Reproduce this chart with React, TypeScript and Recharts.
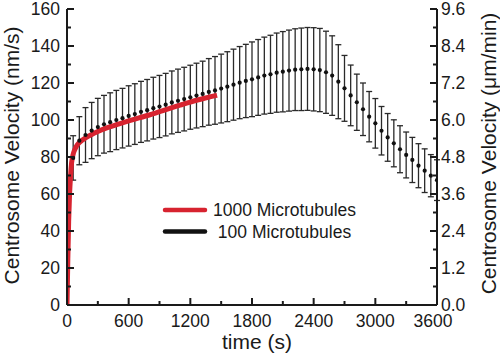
import React from 'react';
import { ComposedChart, Line, Scatter, XAxis, YAxis, ErrorBar } from 'recharts';

const FONT = '"Liberation Sans", Arial, Helvetica, sans-serif';

// 100 Microtubules (mean velocity, nm/s, with error bars)
const times100 = [60, 120, 180, 240, 300, 360, 420, 480, 540, 600, 660, 720, 780, 840, 900, 960, 1020, 1080, 1140, 1200, 1260, 1320, 1380, 1440, 1500, 1560, 1620, 1680, 1740, 1800, 1860, 1920, 1980, 2040, 2100, 2160, 2220, 2280, 2340, 2400, 2460, 2520, 2580, 2640, 2700, 2760, 2820, 2880, 2940, 3000, 3060, 3120, 3180, 3240, 3300, 3360, 3420, 3480, 3540, 3600];
const velocity100 = [79.5, 88.8, 91.9, 94.3, 96.2, 97.7, 98.8, 100, 101, 102.2, 103.2, 104.4, 105.3, 106.4, 107.3, 108.3, 109.5, 110.4, 111.3, 112.3, 113.2, 114.1, 115.2, 116, 117, 118, 119.1, 120.2, 121.1, 122, 123, 124, 124.7, 125.6, 126.1, 126.7, 127.2, 127.4, 127.6, 127.4, 127, 125.8, 124, 120.7, 117.1, 113.3, 109.6, 105.8, 101.8, 98.2, 94.2, 90.6, 87.4, 84.2, 81.1, 78.4, 75.3, 72.6, 69.9, 67.5];
const error100 = [12, 13, 14.8, 15.2, 15.5, 15.6, 15.9, 16, 16.1, 16.3, 16.4, 16.5, 16.6, 16.7, 16.8, 16.9, 17, 17.1, 17.2, 17.3, 17.5, 17.7, 18, 18.3, 18.6, 18.9, 19.2, 19.5, 19.8, 20.2, 20.5, 20.8, 21.1, 21.4, 21.7, 21.9, 22.1, 22.3, 22.4, 22.5, 22.5, 22.2, 21.5, 20, 17.8, 16.4, 15.2, 14.2, 13.6, 13.4, 13.1, 12.9, 12.7, 12.7, 12.4, 12.2, 11.9, 11.8, 11.4, 11];

// 1000 Microtubules
const times1000 = [0, 8, 16, 25, 35, 45, 60, 80, 100, 130, 180, 240, 300, 400, 500, 600, 700, 800, 900, 1000, 1100, 1200, 1300, 1400, 1460];
const velocity1000 = [0, 25, 45, 60, 70, 77, 81.5, 84.5, 86.5, 88.3, 90.3, 92.2, 93.8, 96, 97.8, 99.5, 101.1, 102.7, 104.5, 106.3, 108, 109.7, 111.2, 112.6, 113.4];

const seriesNames = ['1000 Microtubules', ' 100 Microtubules'];
const seriesColors = ['#d7232f', '#111111'];

const xTicks = [0, 300, 600, 900, 1200, 1500, 1800, 2100, 2400, 2700, 3000, 3300, 3600];
const xMajorTicks = [0, 600, 1200, 1800, 2400, 3000, 3600];
const leftTicks = [0, 10, 20, 30, 40, 50, 60, 70, 80, 90, 100, 110, 120, 130, 140, 150, 160];
const leftMajorTicks = [0, 20, 40, 60, 80, 100, 120, 140, 160];
const rightTicks = [0, 0.6, 1.2, 1.8, 2.4, 3.0, 3.6, 4.2, 4.8, 5.4, 6.0, 6.6, 7.2, 7.8, 8.4, 9.0, 9.6];
const rightMajorTicks = [0, 1.2, 2.4, 3.6, 4.8, 6.0, 7.2, 8.4, 9.6];

const xTitle = 'time (s)';
const leftTitle = 'Centrosome Velocity (nm/s)';
const rightTitle = 'Centrosome Velocity (\u03bcm/min)';

const data100 = times100.map((t, i) => ({ t, v: velocity100[i], err: error100[i] }));
const data1000 = times1000.map((t, i) => ({ t, v: velocity1000[i] }));

// layout
const W = 500;
const H = 359;
const PL = 67;
const PR = 437;
const PT = 9;
const PB = 305;
const MAJ = 7;
const MIN = 4;
const TICK_FS = 17.5;
const TITLE_FS = 21;
const INK = '#1a1a1a';

const isMajor = (list: number[], v: number) => list.some((m) => Math.abs(m - v) < 1e-6);

const BottomTick = (props: any) => {
  const { x, payload } = props;
  const major = isMajor(xMajorTicks, payload.value);
  const last = payload.value === xMajorTicks[xMajorTicks.length - 1];
  return (
    <g>
      <line x1={x} y1={PB} x2={x} y2={PB - (major ? MAJ : MIN)} stroke={INK} strokeWidth={2} />
      {major && (
        <text x={last ? x - 4 : x} y={PB + 22} textAnchor="middle" fontSize={TICK_FS} fill={INK} fontFamily={FONT}>
          {payload.value}
        </text>
      )}
    </g>
  );
};

const TopTick = (props: any) => {
  const { x, payload } = props;
  const major = isMajor(xMajorTicks, payload.value);
  return <line x1={x} y1={PT} x2={x} y2={PT + (major ? MAJ : MIN)} stroke={INK} strokeWidth={2} />;
};

const LeftTick = (props: any) => {
  const { y, payload } = props;
  const major = isMajor(leftMajorTicks, payload.value);
  return (
    <g>
      <line x1={PL} y1={y} x2={PL + (major ? MAJ : MIN)} y2={y} stroke={INK} strokeWidth={2} />
      {major && (
        <text x={PL - 7} y={y} dy="0.36em" textAnchor="end" fontSize={TICK_FS} fill={INK} fontFamily={FONT}>
          {payload.value}
        </text>
      )}
    </g>
  );
};

const RightTick = (props: any) => {
  const { y, payload } = props;
  const major = isMajor(rightMajorTicks, payload.value);
  return (
    <g>
      <line x1={PR} y1={y} x2={PR - (major ? MAJ : MIN)} y2={y} stroke={INK} strokeWidth={2} />
      {major && (
        <text x={PR + 4} y={y} dy="0.34em" textAnchor="start" fontSize={TICK_FS} fill={INK} fontFamily={FONT}>
          {Number(payload.value).toFixed(1)}
        </text>
      )}
    </g>
  );
};

const Dot = (props: any) => {
  const { cx, cy } = props;
  if (cx == null || cy == null) return null;
  return <circle cx={cx} cy={cy} r={2.1} fill="#111" />;
};

const Titles = () => (
  <g fontFamily={FONT} fill={INK} fontSize={TITLE_FS}>
    <text x={257} y={349} textAnchor="middle">{xTitle}</text>
    <text transform={`translate(18.5, 155.5) rotate(-90)`} textAnchor="middle">{leftTitle}</text>
    <text transform={`translate(496, 153.5) rotate(-90)`} textAnchor="middle">{rightTitle}</text>
  </g>
);

const LegendBox = () => (
  <g fontFamily={FONT} fill={INK} fontSize={17.5}>
    {seriesNames.map((name, i) => (
      <g key={name}>
        <line x1={165} x2={205} y1={210 + i * 21.5} y2={210 + i * 21.5} stroke={seriesColors[i]} strokeWidth={4.5} strokeLinecap="round" />
        <text x={213} y={210 + i * 21.5} dy="0.36em" style={{ whiteSpace: 'pre' }}>{name}</text>
      </g>
    ))}
  </g>
);

export default function App() {
  return (
    <div style={{ position: 'absolute', left: 0, top: 0, width: W, height: H, background: '#fff' }}>
      <ComposedChart width={W} height={H} margin={{ top: PT, right: 0, bottom: 0, left: 0 }}>
        <XAxis
          xAxisId="b"
          type="number"
          dataKey="t"
          domain={[0, 3600]}
          ticks={xTicks}
          interval={0}
          height={H - PB}
          axisLine={{ stroke: INK, strokeWidth: 2 }}
          tickLine={false}
          tickSize={0}
          tickMargin={0}
          tick={<BottomTick />}
          allowDataOverflow
        />
        <XAxis
          xAxisId="top"
          orientation="top"
          type="number"
          domain={[0, 3600]}
          ticks={xTicks}
          interval={0}
          height={0}
          axisLine={{ stroke: INK, strokeWidth: 2 }}
          tickLine={false}
          tickSize={0}
          tickMargin={0}
          tick={<TopTick />}
          allowDataOverflow
        />
        <YAxis
          yAxisId="l"
          type="number"
          domain={[0, 160]}
          ticks={leftTicks}
          interval={0}
          width={PL}
          axisLine={{ stroke: INK, strokeWidth: 2 }}
          tickLine={false}
          tickSize={0}
          tickMargin={0}
          tick={<LeftTick />}
          allowDataOverflow
        />
        <YAxis
          yAxisId="r"
          orientation="right"
          type="number"
          domain={[0, 9.6]}
          ticks={rightTicks}
          interval={0}
          width={W - PR}
          axisLine={{ stroke: INK, strokeWidth: 2 }}
          tickLine={false}
          tickSize={0}
          tickMargin={0}
          tick={<RightTick />}
          allowDataOverflow
        />
        <Scatter
          name={seriesNames[1]}
          data={data100}
          dataKey="v"
          xAxisId="b"
          yAxisId="l"
          fill="#111"
          shape={<Dot />}
          isAnimationActive={false}
        >
          <ErrorBar dataKey="err" direction="y" width={3} stroke="#2a2a2a" strokeWidth={1.3} isAnimationActive={false} />
        </Scatter>
        <Line
          name={seriesNames[0]}
          data={data1000}
          dataKey="v"
          xAxisId="b"
          yAxisId="l"
          type="monotone"
          stroke={seriesColors[0]}
          strokeWidth={5}
          dot={false}
          isAnimationActive={false}
        />
        <Titles />
        <LegendBox />
      </ComposedChart>
    </div>
  );
}
